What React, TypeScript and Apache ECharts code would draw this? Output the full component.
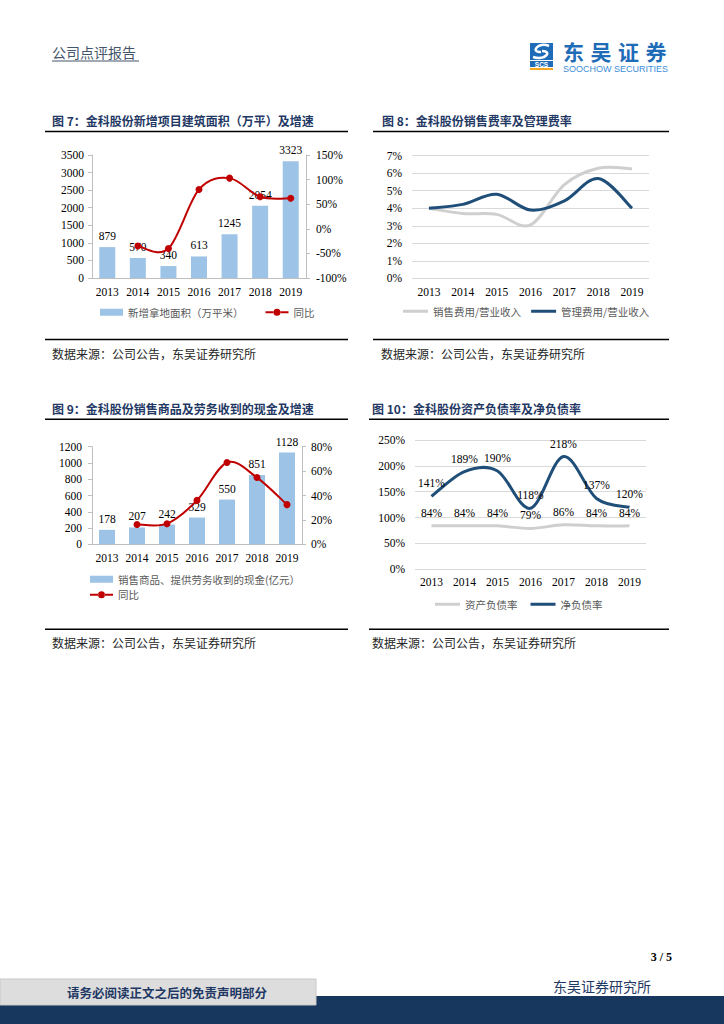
import React, { useEffect, useRef } from "react";
import * as echarts from "echarts";

const years = ["2013", "2014", "2015", "2016", "2017", "2018", "2019"];
// 图7
const landArea = [879, 570, 340, 613, 1245, 2054, 3323];
const landYoY = [null, -35, -40, 80, 103, 65, 62];
// 图8
const sellRate = [4.0, 3.7, 3.65, 3.05, 5.35, 6.28, 6.25];
const mgmtRate = [4.0, 4.22, 4.8, 3.9, 4.42, 5.7, 4.0];
// 图9
const cashReceived = [178, 207, 242, 329, 550, 851, 1128];
const cashYoY = [null, 16.3, 16.9, 36, 67, 54.7, 32.5];
// 图10
const assetLiab = [84, 84, 84, 79, 86, 84, 84];
const netDebt = [141, 189, 190, 118, 218, 137, 120];

const SERIF = "Liberation Serif";
const CJK = "Noto Sans CJK SC";
const NAVY = "#1F3864";
const AX = "#BFBFBF";
const BAR = "#9DC3E6";
const RED = "#C00000";
const GRAY = "#CFCFCF";
const BLUE = "#1F4E79";

const axLabel = (extra = {}) => ({ color: "#000", fontFamily: SERIF, fontSize: 11.5, ...extra });
const legendText = { color: "#595959", fontSize: 10.5, fontFamily: CJK };
const LINE_DOT_ICON =
  "path://M0,2.6H8.3V4.4H0Z M14.7,2.6H23V4.4H14.7Z M8,3.5A3.5,3.5,0,1,0,15,3.5A3.5,3.5,0,1,0,8,3.5Z";

const txt = (text, x, y, opts: any = {}) => ({
  type: "text",
  x,
  y,
  silent: true,
  style: {
    text,
    fill: opts.fill || "#000",
    font: opts.font || `12px ${CJK}`,
    textAlign: opts.align || "left",
    textVerticalAlign: "middle",
    align: opts.align || "left",
    verticalAlign: "middle",
  },
});
const ln = (x1, y1, x2, y2, stroke = "#000", lineWidth = 1.5) => ({
  type: "line",
  silent: true,
  shape: { x1, y1, x2, y2 },
  style: { stroke, lineWidth },
});

// Catmull-Rom style smoothing (similar to Excel smoothed lines)
const smoothPath = (p: number[][]) => {
  if (p.length < 2) return "";
  let d = `M${p[0][0]},${p[0][1]}`;
  for (let k = 0; k < p.length - 1; k++) {
    const p0 = p[k - 1] || p[k];
    const p1 = p[k];
    const p2 = p[k + 1];
    const p3 = p[k + 2] || p[k + 1];
    const c1x = p1[0] + (p2[0] - p0[0]) / 6;
    const c1y = p1[1] + (p2[1] - p0[1]) / 6;
    const c2x = p2[0] - (p3[0] - p1[0]) / 6;
    const c2y = p2[1] - (p3[1] - p1[1]) / 6;
    d += ` C${c1x},${c1y} ${c2x},${c2y} ${p2[0]},${p2[1]}`;
  }
  return d;
};

const smoothSeries = (
  name: string,
  xAxisIndex: number,
  yAxisIndex: number,
  values: (number | null)[],
  color: string,
  width: number,
  opts: { dots?: boolean; labels?: boolean; z?: number } = {}
) => ({
  name,
  type: "custom",
  xAxisIndex,
  yAxisIndex,
  z: opts.z ?? 3,
  itemStyle: { color },
  data: values.map((v, i) => [i, v]),
  renderItem: (params: any, api: any) => {
    const i = params.dataIndex;
    const children: any[] = [];
    if (i === values.length - 1) {
      const pts = values
        .map((v, k) => (v == null ? null : api.coord([k, v])))
        .filter((p) => p) as number[][];
      children.push({
        type: "path",
        shape: { pathData: smoothPath(pts) },
        style: { fill: "none", stroke: color, lineWidth: width },
        z2: 1,
      });
    }
    const v = values[i];
    if (v != null) {
      const [x, y] = api.coord([i, v]);
      if (opts.dots) {
        children.push({ type: "circle", shape: { cx: x, cy: y, r: 3.5 }, style: { fill: color }, z2: 5 });
      }
      if (opts.labels) {
        children.push({
          type: "text",
          x,
          y: y - 7,
          style: {
            text: `${v}%`,
            fill: "#000",
            font: `11.5px ${SERIF}`,
            align: "center",
            verticalAlign: "bottom",
            textAlign: "center",
            textVerticalAlign: "bottom",
          },
          z2: 10,
        });
      }
    }
    return { type: "group", children };
  },
});

export default function App() {
  const ref = useRef<HTMLDivElement>(null);
  useEffect(() => {
    document.body.style.margin = "0";
    const chart = echarts.init(ref.current!, null, { renderer: "svg" });
    const catAxis = (gridIndex, showLine, margin) => ({
      type: "category",
      gridIndex,
      data: years,
      axisLine: { show: showLine, lineStyle: { color: AX } },
      axisTick: { show: false },
      axisLabel: axLabel({ margin }),
    });
    const sideAxis = (gridIndex, position, min, max, interval, pct, margin) => ({
      type: "value",
      gridIndex,
      position,
      min,
      max,
      interval,
      axisLine: { show: true, lineStyle: { color: AX } },
      axisTick: { show: true, length: 4, lineStyle: { color: AX } },
      splitLine: { show: false },
      axisLabel: axLabel({ margin, formatter: (v: number) => (pct ? `${v}%` : String(v)) }),
    });
    const gridAxis = (gridIndex, max, interval, margin) => ({
      type: "value",
      gridIndex,
      min: 0,
      max,
      interval,
      axisLine: { show: false },
      axisTick: { show: false },
      splitLine: { show: true, lineStyle: { color: "#D9D9D9", width: 1 } },
      axisLabel: axLabel({ margin, formatter: (v: number) => `${v}%` }),
    });

    const logoChars = ["东", "吴", "证", "券"].map((c, k) =>
      txt(c, 563 + k * 27.5, 51, { font: `bold 21px ${CJK}`, fill: "#1E6BB8" })
    );

    const option = {
      animation: false,
      grid: [
        { left: 92, top: 155, width: 214, height: 123 },
        { left: 412, top: 155.7, width: 237, height: 122.6 },
        { left: 92, top: 446.7, width: 210, height: 97.6 },
        { left: 415, top: 440, width: 231, height: 129.3 },
      ],
      xAxis: [catAxis(0, true, 8), catAxis(1, false, 8), catAxis(2, true, 8), catAxis(3, false, 7)],
      yAxis: [
        sideAxis(0, "left", 0, 3500, 500, false, 8),
        sideAxis(0, "right", -100, 150, 50, true, 10),
        gridAxis(1, 7, 1, 10),
        sideAxis(2, "left", 0, 1200, 200, false, 10),
        sideAxis(2, "right", 0, 80, 20, true, 9),
        gridAxis(3, 250, 50, 10),
      ],
      legend: [
        {
          left: 100,
          top: 307,
          padding: 0,
          itemWidth: 23,
          itemHeight: 7,
          itemGap: 22,
          textStyle: legendText,
          data: [
            { name: "新增拿地面积（万平米）", icon: "rect", itemStyle: { color: BAR } },
            { name: "同比", icon: LINE_DOT_ICON, itemStyle: { color: RED } },
          ],
        },
        {
          left: 403,
          top: 306,
          padding: 0,
          itemWidth: 25,
          itemHeight: 3,
          itemGap: 10,
          textStyle: legendText,
          data: [
            { name: "销售费用/营业收入", icon: "rect", itemStyle: { color: GRAY } },
            { name: "管理费用/营业收入", icon: "rect", itemStyle: { color: BLUE } },
          ],
        },
        {
          left: 90,
          top: 574,
          padding: 0,
          orient: "vertical",
          itemWidth: 23,
          itemHeight: 7,
          itemGap: 5,
          textStyle: legendText,
          data: [
            { name: "销售商品、提供劳务收到的现金(亿元）", icon: "rect", itemStyle: { color: BAR } },
            { name: "同比", icon: LINE_DOT_ICON, itemStyle: { color: RED } },
          ],
        },
        {
          left: 435,
          top: 599,
          padding: 0,
          itemWidth: 25,
          itemHeight: 3,
          itemGap: 13,
          textStyle: legendText,
          data: [
            { name: "资产负债率", icon: "rect", itemStyle: { color: GRAY } },
            { name: "净负债率", icon: "rect", itemStyle: { color: BLUE } },
          ],
        },
      ],
      series: [
        {
          name: "新增拿地面积（万平米）",
          type: "bar",
          xAxisIndex: 0,
          yAxisIndex: 0,
          data: landArea,
          barWidth: 16,
          itemStyle: { color: BAR },
          label: { show: true, position: "top", distance: 5, ...axLabel() },
        },
        smoothSeries("同比", 0, 1, landYoY, RED, 2, { dots: true, z: 5 }),
        smoothSeries("销售费用/营业收入", 1, 2, sellRate, GRAY, 3),
        smoothSeries("管理费用/营业收入", 1, 2, mgmtRate, BLUE, 3, { z: 4 }),
        {
          name: "销售商品、提供劳务收到的现金(亿元）",
          type: "bar",
          xAxisIndex: 2,
          yAxisIndex: 3,
          data: cashReceived,
          barWidth: 16,
          itemStyle: { color: BAR },
          label: { show: true, position: "top", distance: 5, ...axLabel() },
        },
        smoothSeries("同比", 2, 4, cashYoY, RED, 2, { dots: true, z: 5 }),
        smoothSeries("资产负债率", 3, 5, assetLiab, GRAY, 3, { labels: true }),
        smoothSeries("净负债率", 3, 5, netDebt, BLUE, 3, { labels: true, z: 4 }),
      ],
      graphic: {
        elements: [
          // header
          txt("公司点评报告", 52, 52, { font: `14px ${CJK}`, fill: "#44546A" }),
          ln(52, 61, 139, 61, "#44546A", 1.2),
          // logo
          { type: "rect", silent: true, shape: { x: 530, y: 43, width: 23, height: 17 }, style: { fill: "#1E6BB8" } },
          {
            type: "bezierCurve",
            silent: true,
            shape: { x1: 549, y1: 46, cpx1: 538, cpy1: 41, cpx2: 530, cpy2: 53, x2: 541, y2: 52 },
            style: { stroke: "#fff", lineWidth: 2.5, fill: null },
          },
          {
            type: "bezierCurve",
            silent: true,
            shape: { x1: 542, y1: 51, cpx1: 553, cpy1: 51, cpx2: 545, cpy2: 61, x2: 533, y2: 57 },
            style: { stroke: "#fff", lineWidth: 2.5, fill: null },
          },
          { type: "rect", silent: true, shape: { x: 530, y: 61, width: 23, height: 6 }, style: { fill: "#1E6BB8" } },
          txt("SCS", 541.5, 64.3, { font: `bold 6.5px Liberation Sans`, fill: "#fff", align: "center" }),
          { type: "rect", silent: true, shape: { x: 530, y: 68, width: 23, height: 2 }, style: { fill: "#F5A623" } },
          ...logoChars,
          txt("SOOCHOW SECURITIES", 563, 68.5, { font: `9px Liberation Sans`, fill: "#3C8DD9" }),
          // chart 7
          txt("图 7：金科股份新增项目建筑面积（万平）及增速", 52, 120, { font: `bold 12px ${CJK}`, fill: NAVY }),
          ln(45, 131.5, 348, 131.5),
          ln(45, 339.5, 348, 339.5),
          txt("数据来源：公司公告，东吴证券研究所", 52, 353, { font: `12px ${CJK}`, fill: "#262626" }),
          // chart 8
          txt("图 8：金科股份销售费率及管理费率", 382, 120, { font: `bold 12px ${CJK}`, fill: NAVY }),
          ln(373, 131.5, 669, 131.5),
          ln(373, 339.5, 669, 339.5),
          txt("数据来源：公司公告，东吴证券研究所", 381, 353, { font: `12px ${CJK}`, fill: "#262626" }),
          // chart 9
          txt("图 9：金科股份销售商品及劳务收到的现金及增速", 52, 408, { font: `bold 12px ${CJK}`, fill: NAVY }),
          ln(45, 419.3, 348, 419.3),
          ln(45, 629.3, 348, 629.3),
          txt("数据来源：公司公告，东吴证券研究所", 52, 642, { font: `12px ${CJK}`, fill: "#262626" }),
          // chart 10
          txt("图 10：金科股份资产负债率及净负债率", 372, 408, { font: `bold 12px ${CJK}`, fill: NAVY }),
          ln(369, 419.3, 669, 419.3),
          ln(369, 629.3, 669, 629.3),
          txt("数据来源：公司公告，东吴证券研究所", 372, 642, { font: `12px ${CJK}`, fill: "#262626" }),
          // footer
          txt("3 / 5", 672, 957, { font: `bold 12px ${SERIF}`, fill: "#000", align: "right" }),
          txt("东吴证券研究所", 553, 986, { font: `14px ${CJK}`, fill: NAVY }),
          { type: "rect", silent: true, shape: { x: 0, y: 996, width: 724, height: 28 }, style: { fill: "#17375E" } },
          {
            type: "rect",
            silent: true,
            shape: { x: 0, y: 979, width: 316, height: 26 },
            style: { fill: "#DDDDDD", stroke: "#C8C8C8", lineWidth: 1 },
          },
          txt("请务必阅读正文之后的免责声明部分", 167, 992.5, {
            font: `bold 12.5px ${CJK}`,
            fill: NAVY,
            align: "center",
          }),
        ],
      },
    };
    chart.setOption(option as any);
    return () => chart.dispose();
  }, []);
  return <div ref={ref} style={{ position: "absolute", left: 0, top: 0, width: 724, height: 1024 }} />;
}
